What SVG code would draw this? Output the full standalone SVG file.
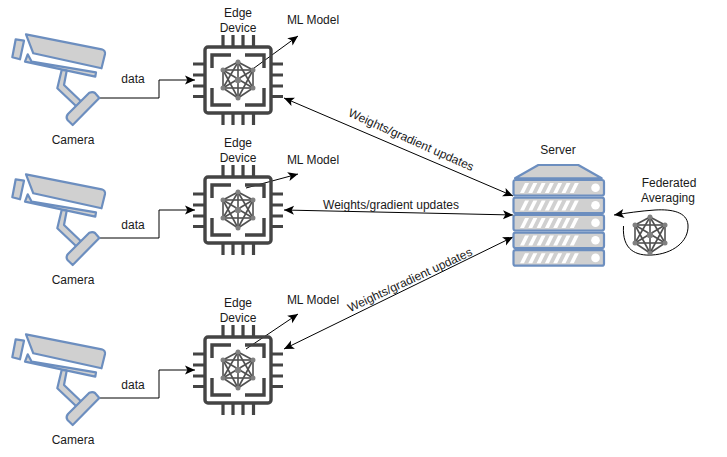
<svg xmlns="http://www.w3.org/2000/svg" xmlns:xlink="http://www.w3.org/1999/xlink" width="727" height="457" viewBox="0 0 727 457">
<style>
text{font-family:"Liberation Sans",Arial,sans-serif;font-size:12px;fill:#1a1a1a;text-anchor:middle}
.cam{fill:#d0d0d0;stroke:#6c8ebf;stroke-width:2.2;stroke-linejoin:round}
.con{fill:none;stroke:#000;stroke-width:1}
.chip{fill:none;stroke:#444;stroke-width:3.4}
.pin{fill:none;stroke:#444;stroke-width:3.2}
.net line{stroke:#505050;stroke-width:1.6}
.net circle{fill:#808080}
.row{fill:#d0d0d0;stroke:#6c8ebf;stroke-width:2.2}
.sl{fill:#fff}
</style>
<defs>
<marker id="a" markerUnits="userSpaceOnUse" markerWidth="13" markerHeight="12" refX="11" refY="6" orient="auto-start-reverse"><path d="M1 1.5L11 6L1 10.5L3.4 6Z" fill="#000"/></marker>
<g id="camera">
<path class="cam" d="M15.7 39.3L24 40.7L20 59.3L12.3 57.3Z"/>
<path class="cam" d="M26 34.3L101.7 49.3Q105.5 50.5 105 54L101.5 68.3L33.3 53.3Z"/>
<path class="cam" d="M27.7 54.3L31.7 61.7L96 72.3L95.3 76.7L25 61.7Z"/>
<path class="cam" d="M61.7 70L66.7 70.7L64 85L80.7 101L77.3 107.3L57.3 88.3Z"/>
<path class="cam" d="M89.3 92.7Q93 91.5 95 93L99.3 98L72.7 125L67.5 120Q65.5 117 68 114Z"/>
</g>
<g id="network" class="net">
<line x1="0" y1="-18" x2="15" y2="-10"/><line x1="0" y1="-18" x2="15" y2="8"/><line x1="0" y1="-18" x2="0" y2="18"/><line x1="0" y1="-18" x2="-15" y2="8"/><line x1="0" y1="-18" x2="-15" y2="-10"/>
<line x1="15" y1="-10" x2="15" y2="8"/><line x1="15" y1="-10" x2="0" y2="18"/><line x1="15" y1="-10" x2="-15" y2="8"/><line x1="15" y1="-10" x2="-15" y2="-10"/>
<line x1="15" y1="8" x2="0" y2="18"/><line x1="15" y1="8" x2="-15" y2="8"/><line x1="15" y1="8" x2="-15" y2="-10"/>
<line x1="0" y1="18" x2="-15" y2="8"/><line x1="0" y1="18" x2="-15" y2="-10"/><line x1="-15" y1="8" x2="-15" y2="-10"/>
<circle cx="0" cy="-18" r="2.5"/><circle cx="15" cy="-10" r="2.5"/><circle cx="15" cy="8" r="2.5"/><circle cx="0" cy="18" r="2.5"/><circle cx="-15" cy="8" r="2.5"/><circle cx="-15" cy="-10" r="2.5"/><circle cx="0" cy="0" r="3.2"/>
</g>
<g id="chip">
<rect class="chip" x="-33" y="-33" width="66" height="66" rx="3"/>
<path class="chip" d="M-26 -12V-25H-7M7 -25H26V-12M26 8V25H7M-7 25H-26V8"/>
<path class="pin" d="M-15 -33V-45M-5 -33V-45M5 -33V-45M15.5 -33V-45M-15 33V45M-5 33V45M5 33V45M15.5 33V45M-33 -16H-45M-33 -5H-45M-33 6H-45M-33 16.5H-45M33 -16H45M33 -5H45M33 6H45M33 16.5H45"/>
<use xlink:href="#network" href="#network"/>
</g>
<g id="srow">
<rect class="row" x="513.5" y="0" width="90.5" height="15.5" rx="2"/>
<path class="sl" d="M520 13L525 3H529L524 13ZM528.3 13L533.3 3H537.3L532.3 13ZM536.6 13L541.6 3H545.6L540.6 13ZM544.9 13L549.9 3H553.9L548.9 13ZM553.2 13L558.2 3H562.2L557.2 13ZM561.5 13L566.5 3H570.5L565.5 13ZM569.8 13L574.8 3H578.8L573.8 13Z"/>
<circle class="sl" cx="595.5" cy="7.7" r="4.3"/>
</g>
</defs>

<g id="connectors">
<path class="con" d="M99 98H159V80H195" marker-end="url(#a)"/>
<path class="con" d="M99 238H159V210H195" marker-end="url(#a)"/>
<path class="con" d="M99 398H159V370H195" marker-end="url(#a)"/>
<path class="con" d="M250 71L298 36" marker-end="url(#a)"/>
<path class="con" d="M246 188L298 174" marker-end="url(#a)"/>
<path class="con" d="M246 349L298 314" marker-end="url(#a)"/>
<path class="con" d="M284 98L513 196" marker-start="url(#a)" marker-end="url(#a)"/>
<path class="con" d="M284 210L513 215" marker-start="url(#a)" marker-end="url(#a)"/>
<path class="con" d="M284 349L513 237" marker-start="url(#a)" marker-end="url(#a)"/>
<path class="con" d="M623.5 226C622 250 636 256 652 255C672 254 689 242 688 225C687 212 672 209 655 210C640 211 627 213 614 215" marker-end="url(#a)"/>
</g>

<g id="camera1"><use xlink:href="#camera" href="#camera"/><text x="73" y="144">Camera</text></g>
<g id="camera2"><use xlink:href="#camera" href="#camera" y="140"/><text x="73" y="284">Camera</text></g>
<g id="camera3"><use xlink:href="#camera" href="#camera" y="300"/><text x="73" y="444">Camera</text></g>

<g id="edge1"><use xlink:href="#chip" href="#chip" x="238" y="80"/><text x="238" y="17">Edge</text><text x="238" y="32">Device</text></g>
<g id="edge2"><use xlink:href="#chip" href="#chip" x="238" y="210"/><text x="238" y="147">Edge</text><text x="238" y="162">Device</text></g>
<g id="edge3"><use xlink:href="#chip" href="#chip" x="238" y="370"/><text x="238" y="307">Edge</text><text x="238" y="322">Device</text></g>

<g id="ml1"><text x="313" y="24">ML Model</text></g>
<g id="ml2"><text x="313" y="164">ML Model</text></g>
<g id="ml3"><text x="313" y="304">ML Model</text></g>

<g id="server">
<path class="cam" d="M515 178.3L538.3 165H578.3L601.7 178.3Z"/>
<use xlink:href="#srow" href="#srow" y="180"/>
<use xlink:href="#srow" href="#srow" y="197.6"/>
<use xlink:href="#srow" href="#srow" y="215"/>
<use xlink:href="#srow" href="#srow" y="232.6"/>
<use xlink:href="#srow" href="#srow" y="250.2"/>
<text x="558" y="154">Server</text>
</g>
<g id="federated">
<use xlink:href="#network" href="#network" x="650" y="235"/>
<text x="669" y="187">Federated</text><text x="668" y="202">Averaging</text>
</g>

<g id="labels">
<text x="133" y="83">data</text><text x="133" y="229">data</text><text x="133" y="389">data</text>
<text transform="translate(409.500 143.500) rotate(24)">Weights/gradient updates</text>
<text x="391" y="208.500">Weights/gradient updates</text>
<text transform="translate(411.500 283.500) rotate(-25)">Weights/gradient updates</text>
</g>
</svg>
